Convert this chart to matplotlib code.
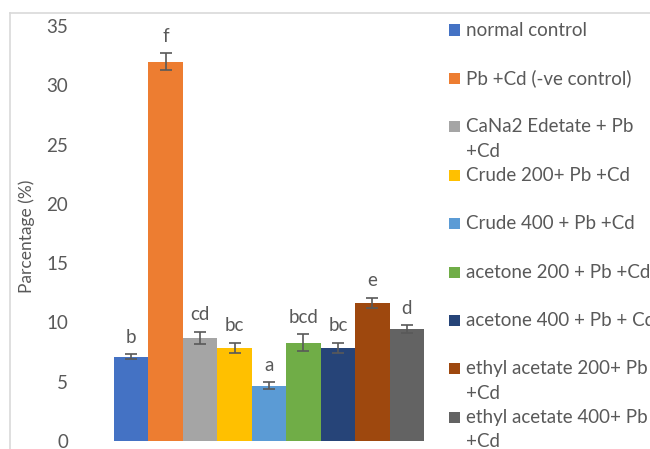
import matplotlib.pyplot as plt
from matplotlib.lines import Line2D
from matplotlib.patches import Rectangle

plt.rcParams['font.family'] = ['Lato', 'DejaVu Sans']

# data
groups = ['normal control', 'Pb +Cd (-ve control)', 'CaNa2 Edetate + Pb\n+Cd',
          'Crude 200+ Pb +Cd', 'Crude 400 + Pb +Cd', 'acetone 200 + Pb +Cd',
          'acetone 400 + Pb + Cd', 'ethyl acetate 200+ Pb\n+Cd',
          'ethyl acetate 400+ Pb\n+Cd']
values = [7.1, 32.0, 8.7, 7.85, 4.65, 8.3, 7.85, 11.65, 9.45]
errors = [0.2, 0.7, 0.5, 0.45, 0.3, 0.7, 0.45, 0.4, 0.3]
letters = ['b', 'f', 'cd', 'bc', 'a', 'bcd', 'bc', 'e', 'd']
colors = ['#4472C4', '#ED7D31', '#A5A5A5', '#FFC000', '#5B9BD5',
          '#70AD47', '#264478', '#9E480E', '#636363']

txt = '#595959'
W, H = 650, 449
fig = plt.figure(figsize=(6.5, 4.49), dpi=100)
ax = fig.add_axes([114 / W, (H - 441) / H, 310 / W, 415 / H])

x = list(range(len(values)))
ax.bar(x, values, width=1.0, color=colors, yerr=errors,
       error_kw=dict(ecolor='#595959', elinewidth=1.2, capsize=4.3, capthick=1.2))
for i in x:
    ax.text(i, values[i] + errors[i] + 1.45, letters[i], ha='center', va='center',
            fontsize=13.5, color=txt)

ax.set_xlim(-0.5, 8.5)
ax.set_ylim(0, 35)
ax.set_yticks(range(0, 36, 5))
ax.set_xticks([])
ax.tick_params(axis='y', length=0, pad=33, labelsize=13.5, labelcolor=txt)
for s in ax.spines.values():
    s.set_visible(False)

fig.text(27 / W, (H - 236) / H, 'Parcentage (%)', rotation=90, ha='center',
         va='center', fontsize=12.5, color=txt)

# legend drawn by hand (wrapped entries, clipped at right edge)
for k, (lab, c) in enumerate(zip(groups, colors)):
    yp = 30 + k * 48.4
    fig.add_artist(Rectangle((449 / W, (H - yp - 5.5) / H), 11 / W, 11 / H,
                             facecolor=c, edgecolor='none', transform=fig.transFigure))
    for j, line in enumerate(lab.split('\n')):
        fig.text(466 / W, (H - yp - 24.5 * j) / H, line, ha='left', va='center',
                 fontsize=13.5, color=txt)

# chart border (partly cropped)
fig.add_artist(Line2D([10 / W, 1], [(H - 13) / H] * 2, color='#D9D9D9', lw=1.2))
fig.add_artist(Line2D([10 / W] * 2, [0, (H - 13) / H], color='#D9D9D9', lw=1.2))

fig.savefig('out.png', dpi=100)
